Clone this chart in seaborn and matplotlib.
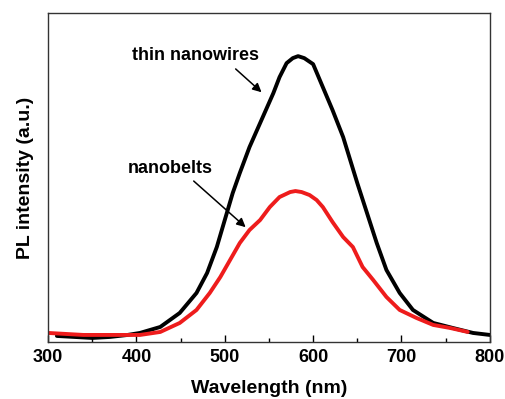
import pandas as pd
import matplotlib.pyplot as plt
import seaborn as sns

sns.set_theme(style="ticks")
plt.rcParams['font.family'] = ['Liberation Sans', 'DejaVu Sans']
plt.rcParams['text.color'] = 'black'
plt.rcParams['axes.labelcolor'] = 'black'
plt.rcParams['xtick.color'] = 'black'

# PL spectra (arbitrary units)
wl_wires = [310, 330, 350, 370, 390, 404, 427, 449, 468, 480, 491, 500, 509, 517,
            528, 538, 548, 555, 562, 570, 577, 583, 590, 600, 611, 622, 634, 642,
            650, 661, 672, 683, 698, 713, 736, 758, 781, 800]
pl_wires = [6, 5, 4, 5, 7, 9, 15, 29, 49, 69, 95, 122, 149, 169,
            195, 215, 235, 249, 265, 279, 284, 286, 284, 278, 255, 232, 205, 182,
            159, 129, 99, 72, 49, 32, 19, 14, 9, 7]

wl_belts = [300, 320, 340, 360, 380, 404, 427, 449, 468, 483, 495, 506, 517, 528,
            540, 551, 562, 574, 580, 587, 596, 604, 611, 622, 634, 645, 656, 668,
            683, 698, 717, 736, 755, 775]
pl_belts = [9, 8, 7, 7, 7, 7, 10, 19, 32, 49, 65, 82, 99, 112,
            122, 135, 145, 150, 151, 150, 147, 142, 135, 120, 105, 95, 75, 62,
            45, 32, 24, 17, 14, 10]

df = pd.concat([
    pd.DataFrame({'wl': wl_wires, 'pl': pl_wires, 'sample': 'thin nanowires'}),
    pd.DataFrame({'wl': wl_belts, 'pl': pl_belts, 'sample': 'nanobelts'}),
])

fig = plt.figure(figsize=(5.06, 3.99), dpi=100)
ax = fig.add_axes([0.095, 0.143, 0.873, 0.824])

sns.lineplot(data=df, x='wl', y='pl', hue='sample',
             palette={'thin nanowires': 'black', 'nanobelts': '#ee1c1c'},
             linewidth=2.8, legend=False, ax=ax, estimator=None, sort=False)
for ln in ax.lines:
    ln.set_solid_joinstyle('round')

ax.set_xlim(300, 800)
ax.set_ylim(0, 329)
ax.set_xticks([300, 400, 500, 600, 700, 800])
ax.set_xticks([350, 450, 550, 650, 750], minor=True)
ax.set_yticks([])
ax.tick_params(axis='x', which='major', direction='in', length=5, width=1,
               labelsize=13, pad=5)
ax.tick_params(axis='x', which='minor', direction='in', length=3, width=1)
for lab in ax.get_xticklabels():
    lab.set_fontweight('bold')
for sp in ax.spines.values():
    sp.set_visible(True)
    sp.set_linewidth(1)
    sp.set_color('#333333')

ax.set_xlabel('Wavelength (nm)', fontsize=14, fontweight='bold', labelpad=10)
ax.set_ylabel('PL intensity (a.u.)', fontsize=14, fontweight='bold', labelpad=10)

ax.text(0.333, 0.872, 'thin nanowires', transform=ax.transAxes, ha='center',
        va='center', fontsize=13, fontweight='bold')
ax.annotate('', xy=(544, 248), xytext=(0.42, 0.836), textcoords='axes fraction',
            arrowprops=dict(arrowstyle='-|>', color='black', lw=1.1, mutation_scale=13))
ax.text(0.276, 0.529, 'nanobelts', transform=ax.transAxes, ha='center',
        va='center', fontsize=13, fontweight='bold')
ax.annotate('', xy=(526, 113), xytext=(0.325, 0.495), textcoords='axes fraction',
            arrowprops=dict(arrowstyle='-|>', color='black', lw=1.1, mutation_scale=13))

fig.savefig('out.png', dpi=100)
